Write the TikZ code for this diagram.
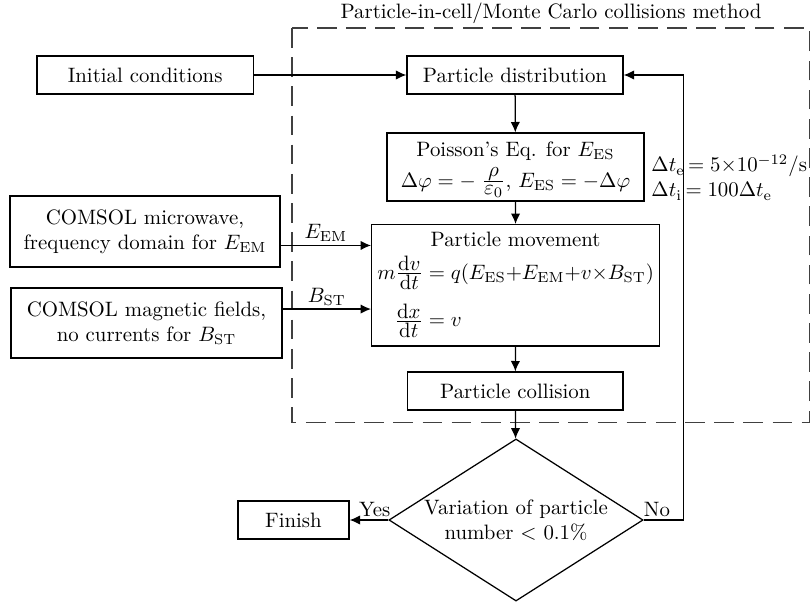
\documentclass[tikz,border=0pt]{standalone}
\usepackage{amsmath}
\usetikzlibrary{arrows.meta,shapes.geometric}
\newcommand{\myfrac}[2]{\tfrac{\displaystyle #1}{\displaystyle #2}}
\begin{document}
\begin{tikzpicture}[x=0.48pt,y=-0.48pt,
  box/.style={draw, line width=0.6pt, align=center, inner sep=1pt},
  txt/.style={inner sep=0pt, align=center, anchor=base},
  arr/.style={-{Latex[length=5pt,width=4.5pt]}, line width=0.6pt},
  dashbox/.style={draw=black!75, line width=0.7pt, dash pattern=on 9.5pt off 4.5pt},
  lbl/.style={inner sep=1.5pt}]
\useasboundingbox (0,0) rectangle (811,606);
\node (title) at (551,13.5) {Particle-in-cell/Monte Carlo collisions method};
\draw[dashbox] (292,28) rectangle (809.5,422.5);
\node[box, minimum width=103.9pt, minimum height=18.2pt] (init) at (145.2,75) {Initial conditions};
\node[box, minimum width=103.7pt, minimum height=18.2pt] (dist) at (515,75) {Particle distribution};
% Poisson box
\node[box, minimum width=123.4pt, minimum height=32.6pt] (pois) at (515.5,167) {};
\node[txt] (poist) at (515.5,156) {Poisson's Eq. for $E_{\mathrm{ES}}$};
\node[txt] (poise) at (515.5,187) {$\Delta\varphi=-\;\myfrac{\rho}{\varepsilon_0}$, $E_{\mathrm{ES}}=-\Delta\varphi$};
% movement box
\node[box, minimum width=138.2pt, minimum height=58.3pt] (mv) at (515.6,285.3) {};
\node[txt] (mvt) at (515.6,246.7) {Particle movement};
\node[txt] (mve) at (515.6,279)
  {$\begin{aligned}[t] m\myfrac{\mathrm{d}v}{\mathrm{d}t}&=q(E_{\mathrm{ES}}{+}E_{\mathrm{EM}}{+}v{\times}B_{\mathrm{ST}})\\[3pt] \myfrac{\mathrm{d}x}{\mathrm{d}t}&=v\end{aligned}$};
\node[box, minimum width=103.4pt, minimum height=18.2pt] (col) at (515.3,391) {Particle collision};
\node[box, minimum width=129.6pt, minimum height=34.1pt] (em) at (145,231.5)
  {COMSOL microwave,\\ frequency domain for $E_{\mathrm{EM}}$};
\node[box, minimum width=130pt, minimum height=33.6pt] (bst) at (146.5,323)
  {COMSOL magnetic fields,\\ no currents for $B_{\mathrm{ST}}$};
\node[box, minimum width=53.3pt, minimum height=18.2pt] (fin) at (293.5,520) {Finish};
\node[draw, line width=0.6pt, diamond, aspect=1.6, inner sep=0pt, align=center,
  minimum width=122pt, minimum height=77.8pt] (dia) at (516,520)
  {Variation of particle\\ number < 0.1\%};
\node[anchor=west, align=left, inner sep=0pt] (dt) at (651,177.5)
  {$\Delta t_{\mathrm{e}}\,{=}\;5{\times}10^{-12}/\mathrm{s}$\\ $\Delta t_{\mathrm{i}}\,{=}\;100\Delta t_{\mathrm{e}}$};
\draw[arr] (init) -- (dist);
\draw[arr] (dist) -- (pois);
\draw[arr] (pois) -- (mv);
\draw[arr] (mv) -- (col);
\draw[arr] (col) -- (dia);
\draw[arr] ([yshift=-6.7pt]em.east) -- node[above, lbl] {$E_{\mathrm{EM}}$} ([yshift=-6.7pt]em.east -| mv.west);
\draw[arr] ([yshift=6.7pt]bst.east) -- node[above, lbl] {$B_{\mathrm{ST}}$} ([yshift=6.7pt]bst.east -| mv.west);
\draw[arr] (dia.west) -- node[above, lbl, pos=0.35] {Yes} (fin.east);
\draw[arr] (dia.east) -- node[above, lbl, pos=0.33] {N{}o} ++(40,0) |- (dist.east);
\end{tikzpicture}
\end{document}
